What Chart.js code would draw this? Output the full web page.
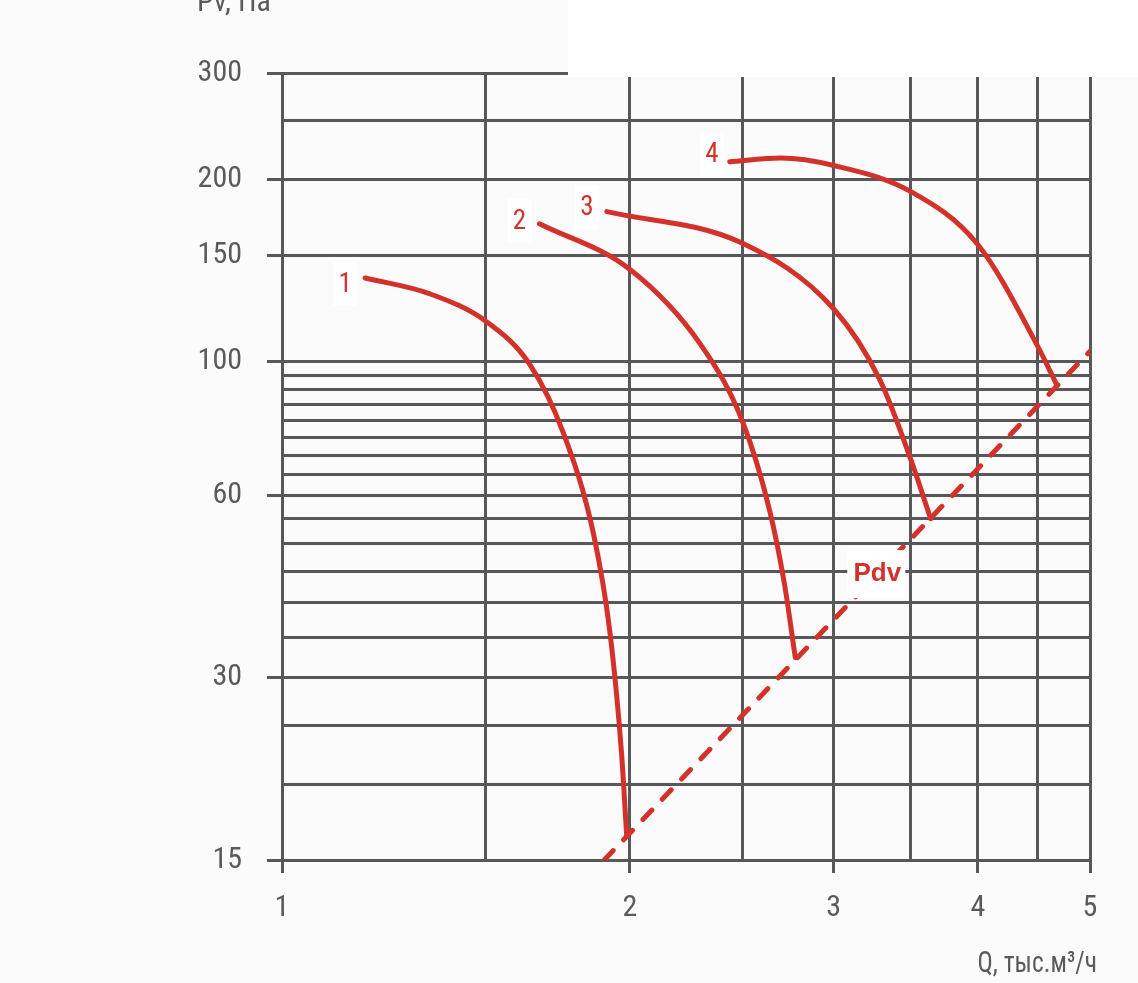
<!DOCTYPE html>
<html lang="ru">
<head>
<meta charset="UTF-8">
<title>Pv – Q</title>
<script src="https://cdn.jsdelivr.net/npm/chart.js"></script>
<style>
  html, body { margin: 0; padding: 0; background: #fbfbfb; }
  #wrap { width: 1138px; height: 983px; position: relative; }
</style>
</head>
<body>
<div id="wrap"><canvas id="chart" width="1138" height="983"></canvas></div>
<script>
// axes
const xGrid = [1, 1.5, 2, 2.5, 3, 3.5, 4, 4.5, 5];
const xLabels = [1, 2, 3, 4, 5];
const yGrid = [15, 20, 25, 30, 35, 40, 45, 50, 55, 60, 65, 70, 75, 80, 85, 90, 95, 100, 150, 200, 250, 300];
const yLabels = [15, 30, 60, 100, 150, 200, 300];

// fan curves (Q in thousand m3/h, Pv in Pa)
const curve1Q = [1.18, 1.343, 1.504, 1.639, 1.751, 1.859, 1.922, 1.967, 1.987];
const curve1P = [137.5, 129.4, 116.3, 98.8, 76.3, 52.1, 35.6, 22.4, 16.4];
const curve2Q = [1.67, 2.0, 2.30, 2.50, 2.64, 2.72, 2.78];
const curve2P = [169, 142, 107, 80, 57, 43, 32.4];
const curve3Q = [1.91, 2.5, 3.0, 3.29, 3.5, 3.64];
const curve3P = [177, 157, 122.3, 93.3, 68.8, 55];
const curve4Q = [2.44, 2.70, 3.0, 3.5, 4.0, 4.5, 4.68];
const curve4P = [214, 217, 211, 191, 156, 106.5, 91.5];
const curveNames = ['1', '2', '3', '4'];

// dynamic pressure line
const pdvQ = [1.9, 5];
const pdvP = [15, 104];

const RED = '#d3322b';
const GRID = '#58585a';
const TXT = '#5a5a5c';
const FONT = "'Liberation Sans Narrow', 'Roboto Condensed', 'Arial Narrow', 'DejaVu Sans Condensed', sans-serif";

// where each number sits relative to the start of its curve (px)
const nameOffsets = [[-20, 6], [-20, -3], [-20, -4], [-18, -7]];

const zip = (qs, ps) => qs.map((q, i) => ({ x: q, y: ps[i] }));
const curves = [
  { name: curveNames[0], q: curve1Q, p: curve1P },
  { name: curveNames[1], q: curve2Q, p: curve2P },
  { name: curveNames[2], q: curve3Q, p: curve3P },
  { name: curveNames[3], q: curve4Q, p: curve4P }
];

const datasets = curves.map(c => ({
  label: c.name,
  data: zip(c.q, c.p),
  borderColor: RED,
  borderWidth: 5,
  pointRadius: 0,
  cubicInterpolationMode: 'monotone',
  borderCapStyle: 'round',
  borderJoinStyle: 'round'
}));
datasets.push({
  label: 'Pdv',
  data: zip(pdvQ, pdvP),
  borderColor: RED,
  borderWidth: 5,
  borderDash: [13, 15],
  borderCapStyle: 'round',
  pointRadius: 0,
  tension: 0
});

const decor = {
  id: 'decor',
  afterDatasetsDraw(chart) {
    const { ctx, scales: { x, y } } = chart;
    ctx.save();
    ctx.textAlign = 'center';
    ctx.textBaseline = 'middle';

    // curve numbers next to each curve start
    ctx.font = '27px ' + FONT;
    curves.forEach((c, i) => {
      const px = x.getPixelForValue(c.q[0]) + nameOffsets[i][0];
      const py = y.getPixelForValue(c.p[0]) + nameOffsets[i][1];
      ctx.fillStyle = '#ffffff';
      ctx.fillRect(px - 12, py - 22, 24, 44);
      ctx.fillStyle = RED;
      ctx.fillText(c.name, px, py + 1);
    });

    // Pdv label sitting on the dashed line
    const x0 = x.getPixelForValue(pdvQ[0]), y0 = y.getPixelForValue(pdvP[0]);
    const x1 = x.getPixelForValue(pdvQ[1]), y1 = y.getPixelForValue(pdvP[1]);
    const t = 0.56;
    const lx = x0 + (x1 - x0) * t, ly = y0 + (y1 - y0) * t;
    ctx.fillStyle = '#ffffff';
    ctx.fillRect(lx - 29, ly - 25, 58, 48);
    ctx.font = "bold 26px 'Liberation Sans', Arial, sans-serif";
    ctx.fillStyle = RED;
    ctx.fillText('Pdv', lx + 1, ly - 1);
    ctx.restore();
  },
  afterDraw(chart) {
    const { ctx } = chart;
    ctx.save();
    // white block over the top right corner
    ctx.fillStyle = '#ffffff';
    ctx.fillRect(568, 0, chart.width - 568, 77);
    // axis titles
    ctx.fillStyle = TXT;
    ctx.font = '30px ' + FONT;
    ctx.textBaseline = 'alphabetic';
    ctx.textAlign = 'left';
    ctx.fillText('Pv, Па', 197, 11);
    ctx.textAlign = 'right';
    ctx.translate(1097, 972);
    ctx.scale(0.85, 1);
    ctx.fillText('Q, тыс.м³/ч', 0, 0);
    ctx.restore();
  }
};

const tickOn = (list, color) => ctx => (ctx.tick && list.includes(ctx.tick.value)) ? color : 'rgba(0,0,0,0)';

new Chart(document.getElementById('chart'), {
  type: 'line',
  data: { datasets },
  options: {
    responsive: false,
    animation: false,
    devicePixelRatio: 1,
    layout: { padding: { top: 73, right: 48, left: 0, bottom: 0 } },
    plugins: {
      legend: { display: false },
      tooltip: { enabled: false }
    },
    scales: {
      x: {
        type: 'logarithmic',
        min: 1,
        max: 5,
        afterBuildTicks: s => { s.ticks = xGrid.map(v => ({ value: v })); },
        afterFit: s => { s.height = 123; },
        grid: { color: GRID, lineWidth: 3, tickLength: 13, tickWidth: 3, tickColor: tickOn(xLabels, GRID) },
        border: { color: GRID, width: 3 },
        ticks: {
          autoSkip: false,
          maxRotation: 0,
          padding: 17,
          color: TXT,
          font: { family: FONT, size: 30 },
          callback: v => xLabels.includes(v) ? String(v) : ''
        }
      },
      y: {
        type: 'logarithmic',
        min: 15,
        max: 300,
        afterBuildTicks: s => { s.ticks = yGrid.map(v => ({ value: v })); },
        afterFit: s => { s.width = 282; },
        grid: { color: GRID, lineWidth: 3, tickLength: 15, tickWidth: 3, tickColor: tickOn(yLabels, GRID) },
        border: { color: GRID, width: 3 },
        ticks: {
          autoSkip: false,
          padding: 25,
          color: TXT,
          font: { family: FONT, size: 30 },
          callback: v => yLabels.includes(v) ? String(v) : ''
        }
      }
    }
  },
  plugins: [decor]
});
</script>
</body>
</html>
